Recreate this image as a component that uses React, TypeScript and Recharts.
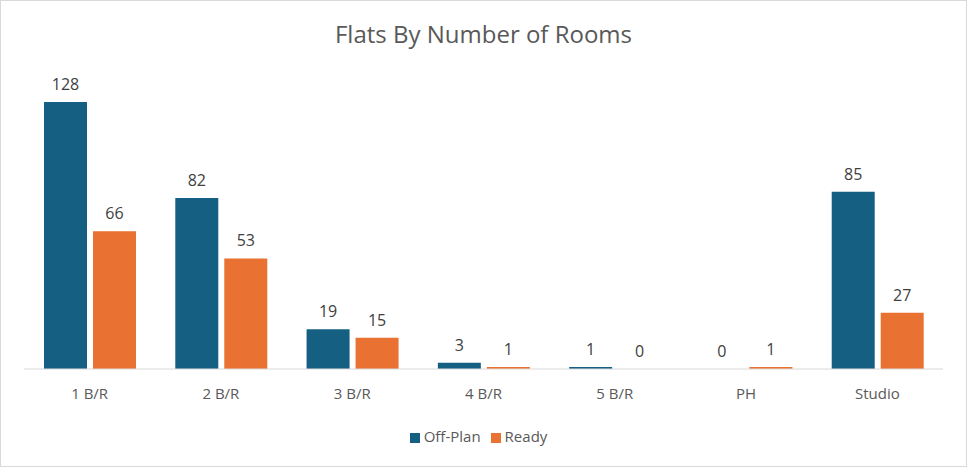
import { BarChart, Bar, XAxis, YAxis, Legend, LabelList } from 'recharts';

// room types along the x axis
const categories = ['1 B/R', '2 B/R', '3 B/R', '4 B/R', '5 B/R', 'PH', 'Studio'];
const offPlan = [128, 82, 19, 3, 1, 0, 85];
const ready = [66, 53, 15, 1, 0, 1, 27];

const data = categories.map((name, i) => ({ name, offPlan: offPlan[i], ready: ready[i] }));

const FONT = '"Open Sans", "Noto Sans", sans-serif';

// keep zero bars in the layout so their "0" label still shows
const keepZero = (v: number) => (v === 0 ? 0.01 : 0);

export default function App() {
  return (
    <div
      style={{
        position: 'absolute',
        left: 0,
        top: 0,
        width: 965,
        height: 465,
        border: '1px solid #D9D9D9',
        background: '#fff',
        fontFamily: FONT,
      }}
    >
      <div
        style={{
          position: 'absolute',
          top: 16,
          width: '100%',
          textAlign: 'center',
          fontSize: 24,
          color: '#595959',
        }}
      >
        Flats By Number of Rooms
      </div>
      <BarChart
        width={965}
        height={465}
        data={data}
        margin={{ top: 76, right: 23, left: 23, bottom: 20 }}
        barSize={43}
        barGap={6}
      >
        <XAxis
          dataKey="name"
          height={57}
          tickLine={false}
          tickSize={0}
          tickMargin={19}
          axisLine={{ stroke: '#D9D9D9', strokeWidth: 1 }}
          tick={{ fill: '#595959', fontSize: 15, fontFamily: FONT }}
        />
        <YAxis hide domain={[0, 140]} />
        <Legend
          verticalAlign="bottom"
          height={20}
          iconType="square"
          iconSize={10}
          wrapperStyle={{ fontSize: 15, fontFamily: FONT }}
          formatter={(v) => <span style={{ color: '#595959' }}>{v}</span>}
        />
        <Bar dataKey="offPlan" name="Off-Plan" fill="#156082" minPointSize={keepZero} isAnimationActive={false}>
          <LabelList dataKey="offPlan" position="top" offset={12} fill="#404040" fontSize={16} fontFamily={FONT} />
        </Bar>
        <Bar dataKey="ready" name="Ready" fill="#E97132" minPointSize={keepZero} isAnimationActive={false}>
          <LabelList dataKey="ready" position="top" offset={12} fill="#404040" fontSize={16} fontFamily={FONT} />
        </Bar>
      </BarChart>
    </div>
  );
}
